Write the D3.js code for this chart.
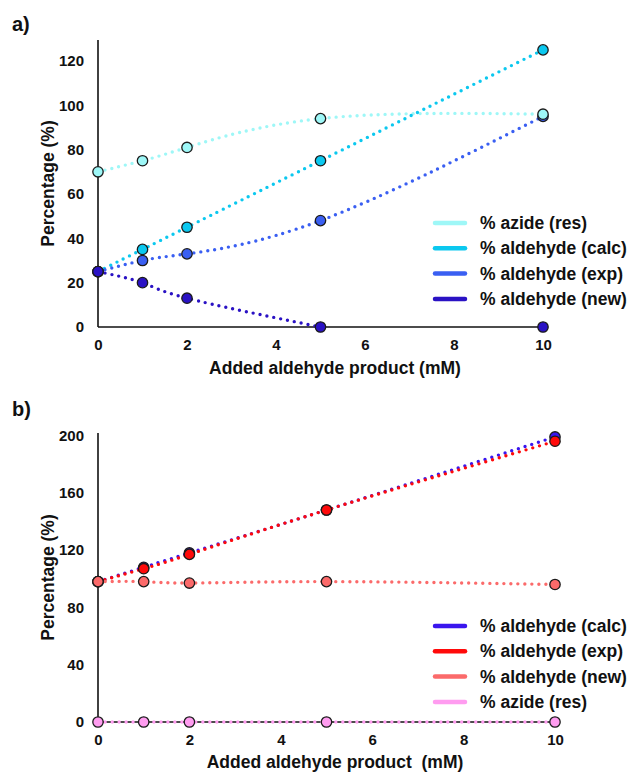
<!DOCTYPE html>
<html>
<head>
<meta charset="utf-8">
<script src="https://cdn.jsdelivr.net/npm/d3@7"></script>
<style>
  body { margin: 0; background: #fff; }
  svg text { font-family: "Liberation Sans", Arial, sans-serif; fill: #111; }
</style>
</head>
<body>
<div id="chart"></div>
<script>
// added aldehyde product (mM)
var conc = [0, 1, 2, 5, 10];
var xTicks = [0, 2, 4, 6, 8, 10];

// panel a
var azideResA = [70, 75, 81, 94, 96];
var aldCalcA = [25, 35, 45, 75, 125];
var aldExpA = [25, 30, 33, 48, 95];
var aldNewA = [25, 20, 13, 0, 0];
var yTicksA = [0, 20, 40, 60, 80, 100, 120];

// panel b
var aldCalcB = [98, 108, 118, 148, 199];
var aldExpB = [98, 107, 117, 148, 196];
var aldNewB = [98, 98, 97, 98, 96];
var azideResB = [0, 0, 0, 0, 0];
var yTicksB = [0, 40, 80, 120, 160, 200];

var svg = d3.select('#chart')
  .append('svg')
  .attr('width', 631)
  .attr('height', 773);

function panel(opts) {
  var x = d3.scaleLinear().domain([0, 10]).range([98, opts.xEnd]);
  var y = d3.scaleLinear().domain([0, opts.yMax]).range([opts.y0, opts.yTop]);
  var g = svg.append('g');

  // axes
  var xAxis = g.append('g')
    .attr('transform', 'translate(0,' + opts.y0 + ')')
    .call(d3.axisBottom(x).tickValues(xTicks).tickSize(0).tickPadding(12));
  xAxis.select('.domain').attr('d', 'M98,0H' + (opts.xEnd + 4)).attr('stroke', '#111').attr('stroke-width', 1.6);
  xAxis.selectAll('text').attr('font-size', 15).attr('font-weight', 'bold').attr('fill', '#111');

  var yAxis = g.append('g')
    .attr('transform', 'translate(98,0)')
    .call(d3.axisLeft(y).tickValues(opts.yTicks).tickSize(0).tickPadding(14));
  yAxis.select('.domain').attr('d', 'M0,' + opts.y0 + 'V' + opts.axisTop).attr('stroke', '#111').attr('stroke-width', 1.6);
  yAxis.selectAll('text').attr('font-size', 15).attr('font-weight', 'bold').attr('fill', '#111');

  g.append('text')
    .attr('x', 12).attr('y', opts.labelY)
    .attr('font-size', 20).attr('font-weight', 'bold')
    .text(opts.label);

  g.append('text')
    .attr('x', 335).attr('y', opts.xTitleY)
    .attr('text-anchor', 'middle')
    .attr('font-size', 17.5).attr('font-weight', 'bold')
    .style('white-space', 'pre')
    .text(opts.xTitle);

  g.append('text')
    .attr('transform', 'translate(54,' + ((opts.y0 + opts.axisTop) / 2) + ') rotate(-90)')
    .attr('text-anchor', 'middle')
    .attr('font-size', 17.5).attr('font-weight', 'bold')
    .text('Percentage (%)');

  // dotted trend lines
  opts.series.forEach(function(s) {
    var pts = conc.map(function(c, i) { return [c, s.values[i]]; })
      .filter(function(p) { return p[0] <= (s.trendEnd === undefined ? 10 : s.trendEnd); });
    g.append('path')
      .datum(pts)
      .attr('fill', 'none')
      .attr('stroke', s.color)
      .attr('stroke-width', 3.4)
      .attr('stroke-linecap', 'round')
      .attr('stroke-dasharray', '0,7')
      .attr('d', d3.line()
        .x(function(d) { return x(d[0]); })
        .y(function(d) { return y(d[1]); })
        .curve(d3.curveNatural));
  });

  // markers
  opts.markerOrder.forEach(function(idx) {
    var s = opts.series[idx];
    g.selectAll(null)
      .data(conc.map(function(c, i) { return [c, s.values[i]]; }))
      .enter().append('circle')
      .attr('cx', function(d) { return x(d[0]); })
      .attr('cy', function(d) { return y(d[1]); })
      .attr('r', 5.2)
      .attr('fill', s.color)
      .attr('stroke', '#1b1b1b')
      .attr('stroke-width', 1.3);
  });

  // legend
  var leg = g.selectAll('.leg')
    .data(opts.series)
    .enter().append('g')
    .attr('transform', function(d, i) { return 'translate(0,' + (opts.legendY + i * 25.3) + ')'; });
  leg.append('line')
    .attr('x1', 435).attr('x2', 465)
    .attr('stroke', function(d) { return d.color; })
    .attr('stroke-width', 4.5)
    .attr('stroke-linecap', 'round');
  leg.append('text')
    .attr('x', 480).attr('dy', '0.35em')
    .attr('font-size', 17.5).attr('font-weight', 'bold')
    .text(function(d) { return d.name; });
}

panel({
  label: 'a)', labelY: 31,
  xEnd: 543, y0: 327, yTop: 38.8, yMax: 130, axisTop: 40,
  yTicks: yTicksA,
  xTitle: 'Added aldehyde product (mM)', xTitleY: 374,
  legendY: 223,
  series: [
    { name: '% azide (res)', color: '#9ef7f7', values: azideResA },
    { name: '% aldehyde (calc)', color: '#0bc8ef', values: aldCalcA },
    { name: '% aldehyde (exp)', color: '#3a5ff2', values: aldExpA },
    { name: '% aldehyde (new)', color: '#2a12c4', values: aldNewA, trendEnd: 5 }
  ],
  markerOrder: [2, 1, 0, 3]
});

panel({
  label: 'b)', labelY: 416,
  xEnd: 555, y0: 722, yTop: 435.5, yMax: 200, axisTop: 433,
  yTicks: yTicksB,
  xTitle: 'Added aldehyde product  (mM)', xTitleY: 768,
  legendY: 626,
  series: [
    { name: '% aldehyde (calc)', color: '#3a16ee', values: aldCalcB },
    { name: '% aldehyde (exp)', color: '#ff0a0a', values: aldExpB },
    { name: '% aldehyde (new)', color: '#fb6a6a', values: aldNewB },
    { name: '% azide (res)', color: '#ff9cf0', values: azideResB }
  ],
  markerOrder: [0, 1, 2, 3]
});
</script>
</body>
</html>
